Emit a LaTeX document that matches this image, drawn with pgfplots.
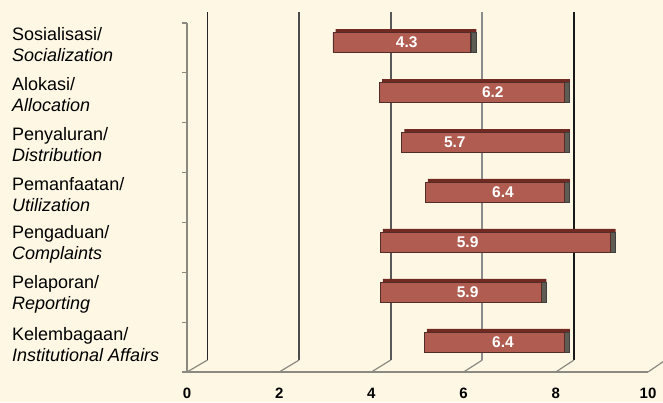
\documentclass[border=0pt]{standalone}
\usepackage{pgfplots}
\pgfplotsset{compat=1.18}
\usepackage{pgfplotstable}
\usepackage{fontspec}
\setmainfont{Liberation Sans}
\definecolor{bg}{RGB}{254,247,228}
\definecolor{barfront}{RGB}{176,92,80}
\definecolor{bartop}{RGB}{112,42,34}
\definecolor{barside}{RGB}{95,92,84}
\definecolor{baredge}{RGB}{85,45,40}
\definecolor{axgray}{RGB}{140,138,128}

\pgfplotstableread{
y start end lx label
7 2.74 5.75 4.35 4.3
6 3.75 7.79 6.23 6.2
5 4.24 7.79 5.40 5.7
4 4.75 7.79 6.45 6.4
3 3.77 8.79 5.68 5.9
2 3.77 7.28 5.68 5.9
1 4.73 7.79 6.45 6.4
}\bars

\pgfplotsset{
 back/.style={scale only axis, width=458pt, height=348pt, xmin=0, xmax=10,
   ymin=0.64, ymax=7.61, hide axis, at={(207.5pt,42pt)}, anchor=south west, clip=false},
}

\begin{document}
\begin{tikzpicture}[x=1pt,y=1pt]
\useasboundingbox (0,0) rectangle (663,402);
\clip (0,0) rectangle (663,402);
\fill[bg] (0,0) rectangle (663,402);
% back wall grid lines
\begin{axis}[back]
\addplot[black!85, line width=1.8pt] coordinates {(0,0.64) (0,7.61)};
\addplot[black!70, line width=1.8pt] coordinates {(2,0.64) (2,7.61)};
\addplot[black!65, line width=1.8pt] coordinates {(4,0.64) (4,7.61)};
\addplot[black!45, line width=1.8pt] coordinates {(6,0.64) (6,7.61)};
\addplot[black!90, line width=1.8pt] coordinates {(8,0.64) (8,7.61)};
\end{axis}
% top faces
\begin{axis}[back, xbar stacked]
\addplot[draw=none, fill=none, bar width=3.5pt, bar shift=11.5pt] table[x expr=\thisrow{start}+0.06, y=y]{\bars};
\addplot[fill=bartop, draw=none, bar width=3.5pt, bar shift=11.5pt] table[x expr=\thisrow{end}-\thisrow{start}+0.06, y=y]{\bars};
\end{axis}
% bars
\begin{axis}[back, xbar stacked]
\addplot[draw=none, fill=none, bar width=20pt] table[x=start, y=y]{\bars};
\addplot[fill=barfront, draw=baredge, line width=0.8pt, bar width=20pt] table[x expr=\thisrow{end}-\thisrow{start}, y=y]{\bars};
\addplot[fill=barside, draw=black!75, line width=0.6pt, bar width=20pt] table[x expr=0.11, y=y]{\bars};
\end{axis}
% value labels
\begin{axis}[back]
\addplot[draw=none, mark=none, nodes near coords, point meta=explicit symbolic,
  every node near coord/.append style={anchor=center, text=white, font=\bfseries\fontsize{15.5}{16}\selectfont}]
  table[x=lx, y=y, meta=label]{\bars};
\end{axis}
% front axis
\begin{axis}[scale only axis, width=461pt, height=349pt, at={(187pt,30pt)}, anchor=south west,
  xmin=0, xmax=10, ymin=0, ymax=7, clip=false,
  axis x line*=bottom, axis y line*=left,
  axis line style={axgray, line width=1.4pt, -},
  xtick={0,2,...,10}, ytick={0.5,1.5,...,6.5}, minor ytick={0,...,7},
  major tick length=0pt, minor tick length=5pt, tick align=outside,
  tick style={axgray, line width=1.2pt},
  yticklabels={{Kelembagaan/\\\itshape Institutional Affairs},
    {Pelaporan/\\\itshape Reporting},
    {Pengaduan/\\\itshape Complaints},
    {Pemanfaatan/\\\itshape Utilization},
    {Penyaluran/\\\itshape Distribution},
    {Alokasi/\\\itshape Allocation},
    {Sosialisasi/\\\itshape Socialization}},
  yticklabel style={anchor=west, align=left, inner sep=0pt, xshift=-175pt, yshift=3pt,
    font=\fontsize{18}{21}\selectfont},
  xticklabel style={font=\bfseries\fontsize{15}{15}\selectfont, anchor=center, inner sep=0pt, yshift=-21pt},
  /pgf/number format/assume math mode=true]
\addplot[axgray, line width=1.2pt] coordinates {(0,0) (0.445,0.24)};
\addplot[axgray, line width=1.2pt] coordinates {(2,0) (2.432,0.24)};
\addplot[axgray, line width=1.2pt] coordinates {(4,0) (4.419,0.24)};
\addplot[axgray, line width=1.2pt] coordinates {(6,0) (6.406,0.24)};
\addplot[axgray, line width=1.2pt] coordinates {(8,0) (8.393,0.24)};
\addplot[axgray, line width=1.2pt] coordinates {(10,0) (10.38,0.24)};
\end{axis}
\end{tikzpicture}
\end{document}
